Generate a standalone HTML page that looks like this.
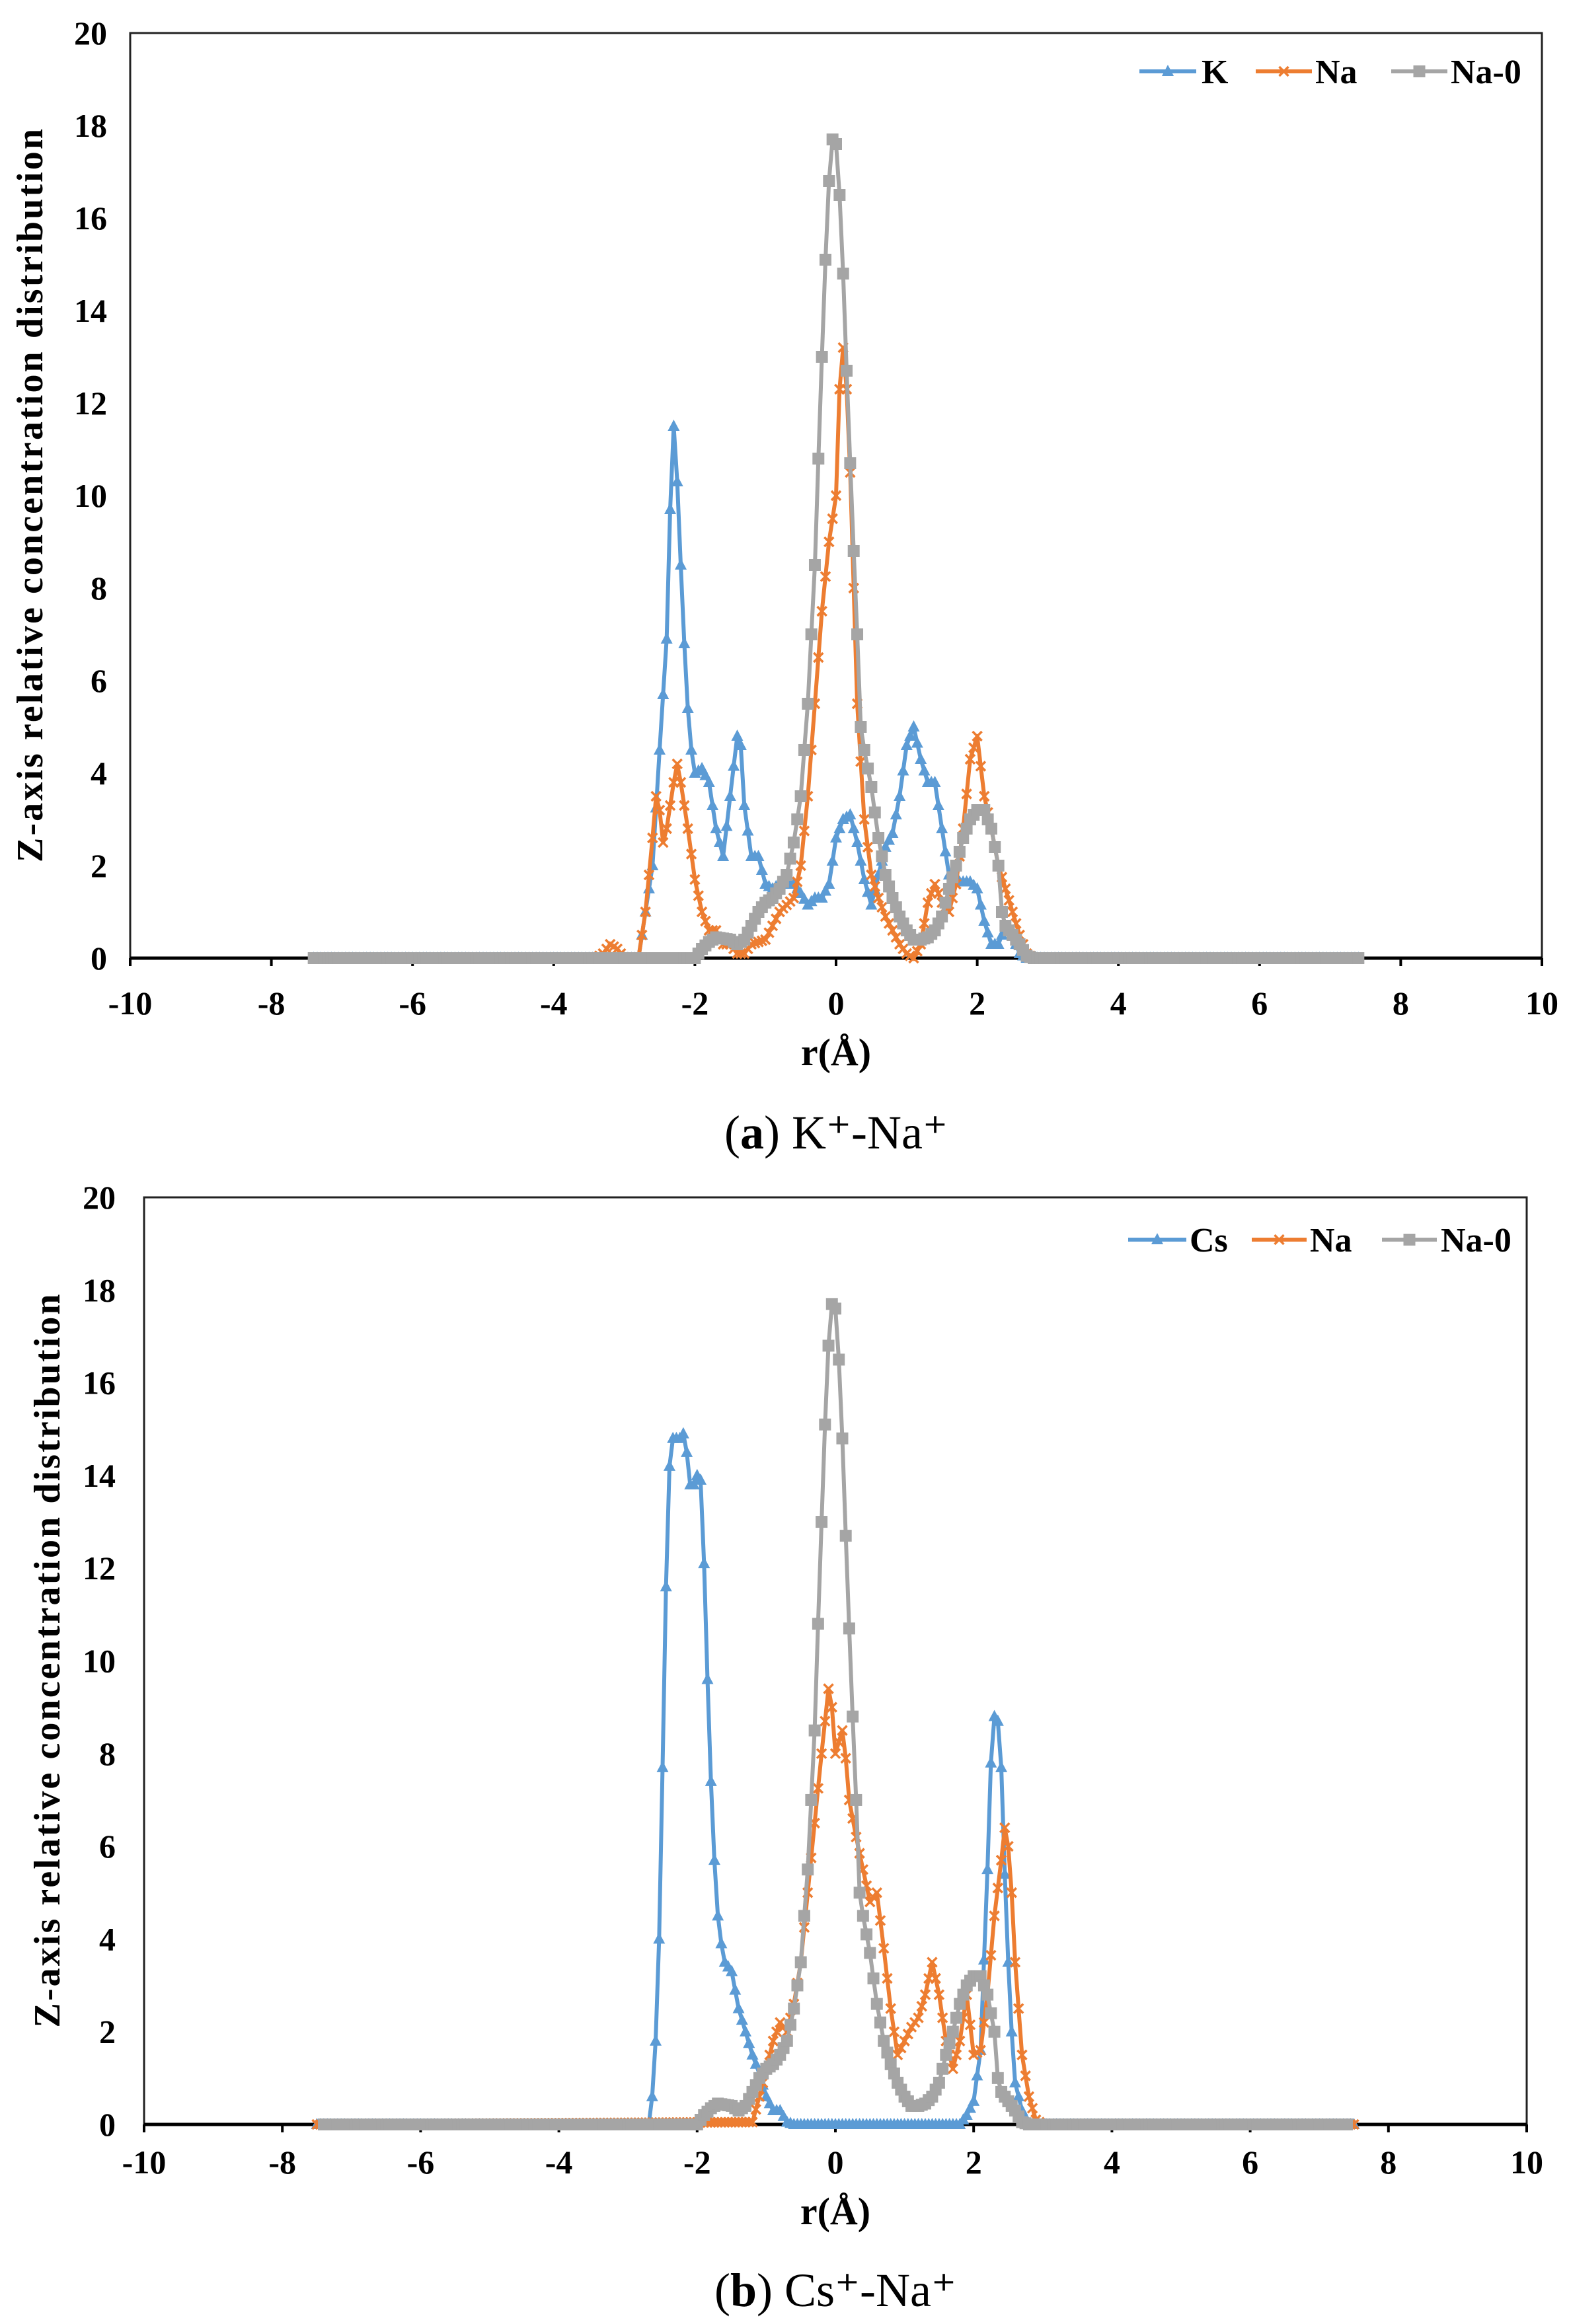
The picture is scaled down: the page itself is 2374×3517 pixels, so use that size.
<!DOCTYPE html>
<html><head><meta charset="utf-8"><style>
html,body{margin:0;padding:0;background:#fff}
svg{display:block}
text{font-family:"Liberation Serif",serif}
</style></head><body>
<svg id="s" width="2374" height="3517" xmlns="http://www.w3.org/2000/svg"></svg>
<script>
const S=document.getElementById('s');
let out='';
function P(cfg){
 const {L,R,T,B}=cfg;
 const X=v=>L+(v+10)/20*(R-L), Y=v=>B-v/20*(B-T);
 out+=`<rect x="${L}" y="${T}" width="${R-L}" height="${B-T}" fill="none" stroke="#222" stroke-width="3"/>`;
 out+=`<line x1="${L}" y1="${B}" x2="${R}" y2="${B}" stroke="#000" stroke-width="5"/>`;
 for(let v=-10;v<=10;v+=2){const x=X(v);out+=`<line x1="${x}" y1="${B}" x2="${x}" y2="${B+12}" stroke="#000" stroke-width="4"/>`;
  out+=`<text x="${x}" y="${cfg.xl}" font-size="50" font-weight="bold" text-anchor="middle">${v}</text>`;}
 for(let v=0;v<=20;v+=2){out+=`<text x="${cfg.yr}" y="${Y(v)+17}" font-size="50" font-weight="bold" text-anchor="end">${v}</text>`;}
 out+=`<text x="${(L+R)/2}" y="${cfg.xt}" font-size="58" font-weight="bold" text-anchor="middle">r(Å)</text>`;
 out+=`<text transform="translate(${cfg.yt},${(T+B)/2}) rotate(-90)" font-size="56" font-weight="bold" text-anchor="middle" textLength="1110" lengthAdjust="spacing">Z-axis  relative  concentration  distribution</text>`;
 out+=`<text x="${(L+R)/2}" y="${cfg.cy}" font-size="72" text-anchor="middle">(<tspan font-weight="bold">${cfg.cl}</tspan>) ${cfg.cap}</text>`;
 const cols={b:'#5b9bd5',o:'#ed7d31',g:'#a5a5a5'};
 function marker(t,x,y,c){
  if(t=='b')return `<polygon points="${x},${y-10} ${x-9},${y+7} ${x+9},${y+7}" fill="${c}"/>`;
  if(t=='o')return `<path d="M${x-7},${y-7}L${x+7},${y+7}M${x-7},${y+7}L${x+7},${y-7}" stroke="${c}" stroke-width="3.5"/>`;
  return `<rect x="${x-9}" y="${y-9}" width="18" height="18" fill="${c}"/>`;
 }
 cfg.series.forEach(([t,kp])=>{
  const pts=[];
  const a=kp[0][0],b=kp[kp.length-1][0];
  let j=0;
  for(let x=a;x<=b+1e-9;x+=0.05){
   while(j<kp.length-2&&kp[j+1][0]<x-1e-9)j++;
   const [x0,y0]=kp[j],[x1,y1]=kp[j+1];
   const y=x1==x0?y0:y0+(y1-y0)*(x-x0)/(x1-x0);
   pts.push([X(x),Y(Math.max(0,y))]);
  }
  const c=cols[t];
  out+=`<polyline points="${pts.map(p=>p[0].toFixed(1)+','+p[1].toFixed(1)).join(' ')}" fill="none" stroke="${c}" stroke-width="6" stroke-linejoin="round"/>`;
  pts.forEach(p=>out+=marker(t,p[0],p[1],c));
 });
 cfg.leg.forEach(([t,x1,x2,tx,lab])=>{const c=cols[t],y=cfg.ly;
  out+=`<line x1="${x1}" y1="${y}" x2="${x2}" y2="${y}" stroke="${c}" stroke-width="6"/>`+marker(t,(x1+x2)/2,y,c);
  out+=`<text x="${tx}" y="${y+18}" font-size="52" font-weight="bold">${lab}</text>`;});
}
const gTop=[[-7.4,0],[-2,0],[-1.9,.2],[-1.8,.35],[-1.7,.45],[-1.5,.4],[-1.4,.3],[-1.3,.4],[-1.1,1],[-1,1.2],[-.9,1.3],[-.8,1.5],[-.7,1.8],[-.6,2.5],[-.5,3.5],[-.4,5.5],[-.3,8.5],[-.25,10.8],[-.2,13],[-.15,15.1],[-.1,16.8],[-.05,17.7],[0,17.6],[.05,16.5],[.1,14.8],[.15,12.7],[.2,10.7],[.25,8.8],[.3,7],[.35,5],[.4,4.5],[.5,3.7],[.6,2.6],[.7,1.8],[.8,1.3],[.9,.9],[1,.6],[1.1,.4],[1.2,.4],[1.3,.45],[1.4,.6],[1.5,.9],[1.6,1.5],[1.7,2],[1.8,2.6],[1.9,3],[2,3.2],[2.1,3.2],[2.2,2.8],[2.3,2],[2.35,1],[2.4,.7],[2.5,.5],[2.6,.3],[2.7,.05],[2.8,0],[7.4,0]];
P({L:197,R:2333,T:50,B:1450,xl:1535,yr:162,xt:1612,yt:64,cy:1738,cl:'a',cap:'K⁺-Na⁺',ly:108,
 leg:[['b',1724,1810,1818,'K'],['o',1900,1985,1990,'Na'],['g',2105,2190,2195,'Na-0']],
 series:[
 ['b',[[-7.4,0],[-2.8,0],[-2.7,1],[-2.6,2],[-2.5,4.5],[-2.4,6.9],[-2.35,9.7],[-2.3,11.5],[-2.25,10.3],[-2.2,8.5],[-2.15,6.8],[-2.1,5.4],[-2.05,4.5],[-2,4],[-1.9,4.1],[-1.8,3.8],[-1.7,2.8],[-1.6,2.2],[-1.5,3.5],[-1.4,4.8],[-1.35,4.6],[-1.3,3.3],[-1.2,2.2],[-1.1,2.2],[-1,1.6],[-.9,1.5],[-.8,1.6],[-.6,1.6],[-.5,1.4],[-.4,1.15],[-.3,1.3],[-.2,1.3],[-.1,1.6],[0,2.6],[.1,3],[.2,3.1],[.3,2.5],[.4,1.7],[.5,1.15],[.6,1.8],[.7,2.4],[.8,2.7],[.9,3.5],[1,4.6],[1.1,5],[1.2,4.3],[1.3,3.8],[1.4,3.8],[1.5,2.8],[1.6,1.8],[1.7,1.65],[1.9,1.65],[2,1.5],[2.1,.8],[2.2,.3],[2.3,.3],[2.4,.7],[2.5,.5],[2.6,.1],[2.7,0],[7.4,0]]],
 ['o',[[-7.4,0],[-3.4,0],[-3.3,.1],[-3.2,.3],[-3.1,.2],[-3,0],[-2.8,0],[-2.7,1],[-2.6,2.6],[-2.55,3.5],[-2.5,3.2],[-2.45,2.5],[-2.4,2.8],[-2.3,3.8],[-2.25,4.2],[-2.2,3.8],[-2.1,2.8],[-2,1.7],[-1.9,1],[-1.8,.6],[-1.7,.6],[-1.6,.3],[-1.5,.3],[-1.4,.1],[-1.3,.1],[-1.2,.3],[-1,.4],[-.9,.7],[-.8,1],[-.6,1.3],[-.5,2],[-.4,3.5],[-.3,5.5],[-.2,7.5],[-.1,9],[0,10],[.05,12.3],[.1,13.2],[.15,12.3],[.2,10.5],[.25,8],[.3,5.5],[.4,3],[.5,1.8],[.6,1.3],[.7,.9],[.8,.6],[.9,.3],[1,.1],[1.1,0],[1.2,.3],[1.3,1.2],[1.4,1.6],[1.5,1.2],[1.6,1],[1.7,1.6],[1.8,2.8],[1.9,4.3],[2,4.8],[2.1,3.5],[2.2,2.8],[2.3,2],[2.4,1.5],[2.5,1],[2.6,.5],[2.7,.1],[2.8,0],[7.4,0]]],
 ['g',gTop]]});
P({L:218,R:2310,T:1812,B:3215,xl:3289,yr:175,xt:3366,yt:90,cy:3490,cl:'b',cap:'Cs⁺-Na⁺',ly:1876,
 leg:[['b',1707,1795,1800,'Cs'],['o',1894,1977,1982,'Na'],['g',2091,2174,2180,'Na-0']],
 series:[
 ['b',[[-7.5,0],[-2.7,0],[-2.65,.6],[-2.6,1.8],[-2.55,4],[-2.5,7.7],[-2.45,11.6],[-2.4,14.2],[-2.35,14.8],[-2.3,14.8],[-2.25,14.8],[-2.2,14.9],[-2.15,14.5],[-2.1,13.8],[-2.05,13.8],[-2,14],[-1.95,13.9],[-1.9,12.1],[-1.85,9.6],[-1.8,7.4],[-1.75,5.7],[-1.7,4.5],[-1.65,3.9],[-1.6,3.5],[-1.5,3.3],[-1.4,2.5],[-1.3,2],[-1.2,1.5],[-1.1,1.1],[-1,.6],[-.9,.3],[-.8,.3],[-.7,.05],[-.6,0],[1.8,0],[1.9,.2],[2,.5],[2.1,1.6],[2.2,5.5],[2.25,7.8],[2.3,8.8],[2.35,8.7],[2.4,7.7],[2.45,5.4],[2.5,3.5],[2.55,2],[2.6,.9],[2.7,.3],[2.8,0],[7.5,0]]],
 ['o',[[-7.5,0],[-1.2,.05],[-1.1,.6],[-1,1.2],[-.9,1.8],[-.8,2.2],[-.7,2],[-.6,2.6],[-.5,3.5],[-.4,5],[-.3,6.5],[-.2,8],[-.1,9.4],[-.05,9],[0,8],[.1,8.5],[.15,7.9],[.2,7],[.3,6.2],[.4,5.5],[.5,4.8],[.6,5],[.7,3.8],[.8,2.5],[.9,1.5],[1,1.8],[1.1,2.1],[1.2,2.3],[1.3,2.8],[1.4,3.5],[1.5,2.8],[1.6,1.8],[1.7,1.2],[1.8,1.8],[1.9,2.8],[2,1.5],[2.1,1.6],[2.2,2.8],[2.3,4.5],[2.4,5.7],[2.45,6.4],[2.5,6],[2.55,5],[2.6,3.5],[2.7,1.5],[2.8,.6],[2.9,.1],[3,0],[7.5,0]]],
 ['g',gTop]]});
S.innerHTML=out;
</script>
</body></html>
